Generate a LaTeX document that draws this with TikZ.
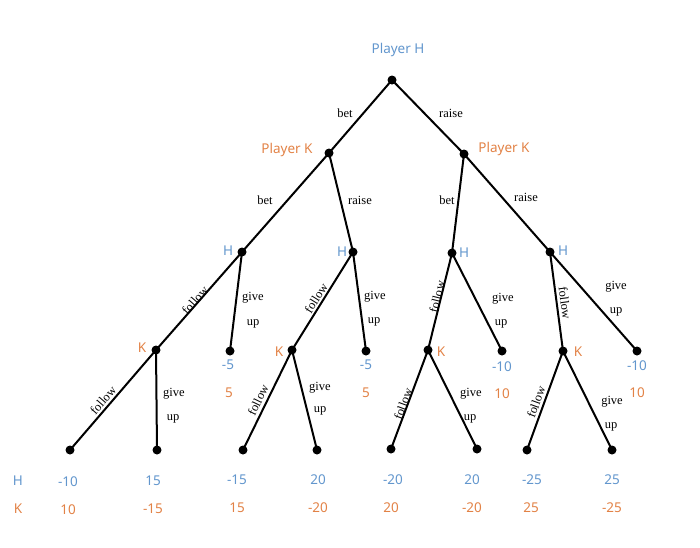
\documentclass[tikz,border=0pt]{standalone}
\usepackage{fontspec}
\setmainfont{Liberation Serif}
\newfontfamily\lblfont{Noto Sans}
\definecolor{hblue}{RGB}{98,150,205}
\definecolor{korange}{RGB}{226,130,70}
\begin{document}
\begin{tikzpicture}[x=1pt,y=-1pt,
  dot/.style={circle,fill=black,inner sep=0pt,minimum size=9pt},
  edge/.style={line width=2pt},
  act/.style={font=\fontsize{12.5}{14}\selectfont,inner sep=0pt},
  hl/.style={font=\lblfont\fontsize{13.5}{15}\selectfont,text=hblue,inner sep=0pt},
  kl/.style={font=\lblfont\fontsize{13.5}{15}\selectfont,text=korange,inner sep=0pt}]
\useasboundingbox (0,0) rectangle (700,547);
% decision nodes
\node[dot] (r) at (392,80) {};
\node[dot] (k1) at (329,153) {};
\node[dot] (k2) at (464,154) {};
\node[dot] (h1) at (242,252) {};
\node[dot] (h2) at (353,252) {};
\node[dot] (h3) at (452,253) {};
\node[dot] (h4) at (550,252) {};
\node[dot] (ka) at (156,350) {};
\node[dot] (t1) at (230,351) {};
\node[dot] (kb) at (292,350) {};
\node[dot] (t2) at (366,351) {};
\node[dot] (kc) at (428,350) {};
\node[dot] (t3) at (502,351) {};
\node[dot] (kd) at (563,351) {};
\node[dot] (t4) at (637,351) {};
\node[dot] (l1) at (70,450) {};
\node[dot] (l2) at (157,450) {};
\node[dot] (l3) at (243,450) {};
\node[dot] (l4) at (317,450) {};
\node[dot] (l5) at (391,449) {};
\node[dot] (l6) at (477,449) {};
\node[dot] (l7) at (527,450) {};
\node[dot] (l8) at (612,450) {};
% edges
\draw[edge] (r.center) -- (k1.center);
\draw[edge] (r.center) -- (k2.center);
\draw[edge] (k1.center) -- (h1.center);
\draw[edge] (k1.center) -- (h2.center);
\draw[edge] (k2.center) -- (h3.center);
\draw[edge] (k2.center) -- (h4.center);
\draw[edge] (h1.center) -- (ka.center);
\draw[edge] (h1.center) -- (t1.center);
\draw[edge] (h2.center) -- (kb.center);
\draw[edge] (h2.center) -- (t2.center);
\draw[edge] (h3.center) -- (kc.center);
\draw[edge] (h3.center) -- (t3.center);
\draw[edge] (h4.center) -- (kd.center);
\draw[edge] (h4.center) -- (t4.center);
\draw[edge] (ka.center) -- (l1.center);
\draw[edge] (ka.center) -- (l2.center);
\draw[edge] (kb.center) -- (l3.center);
\draw[edge] (kb.center) -- (l4.center);
\draw[edge] (kc.center) -- (l5.center);
\draw[edge] (kc.center) -- (l6.center);
\draw[edge] (kd.center) -- (l7.center);
\draw[edge] (kd.center) -- (l8.center);
% player labels
\node[hl] (pH) at (398,50) {Player H};
\node[kl] (pK1) at (287,150) {Player K};
\node[kl] (pK2) at (504,149) {Player K};
\node[hl] (lh1) at (228,251) {H};
\node[hl] (lh2) at (342,252) {H};
\node[hl] (lh3) at (464,253) {H};
\node[hl] (lh4) at (563,251) {H};
\node[kl] (lka) at (142,348) {K};
\node[kl] (lkb) at (279,352) {K};
\node[kl] (lkc) at (441,352) {K};
\node[kl] (lkd) at (578,352) {K};
% action labels
\node[act] (a1) at (345,113) {bet};
\node[act] (a2) at (451,113) {raise};
\node[act] (a3) at (265,200) {bet};
\node[act] (a4) at (360,200) {raise};
\node[act] (a5) at (447,200) {bet};
\node[act] (a6) at (526,197) {raise};
\node[act,rotate=48.7] (f1) at (195,300) {follow};
\node[act] (g1a) at (253,298) {give};
\node[act] (g1b) at (253,324) {up};
\node[act,rotate=58] (f2) at (316,298) {follow};
\node[act] (g2a) at (375,297) {give};
\node[act] (g2b) at (374,322) {up};
\node[act,rotate=76] (f3) at (437,297) {follow};
\node[act] (g3a) at (503,299) {give};
\node[act] (g3b) at (501,324) {up};
\node[act,rotate=-82.5] (f4) at (565,303) {follow};
\node[act] (g4a) at (616,287) {give};
\node[act] (g4b) at (616,312) {up};
\node[act,rotate=49] (f5) at (103,400) {follow};
\node[act] (g5a) at (174,394) {give};
\node[act] (g5b) at (173,419) {up};
\node[act,rotate=64] (f6) at (258,400) {follow};
\node[act] (g6a) at (320,388) {give};
\node[act] (g6b) at (320,411) {up};
\node[act,rotate=70] (f7) at (403,404) {follow};
\node[act] (g7a) at (471,394) {give};
\node[act] (g7b) at (470,419) {up};
\node[act,rotate=70] (f8) at (536,402) {follow};
\node[act] (g8a) at (612,402) {give};
\node[act] (g8b) at (611,427) {up};
% intermediate payoffs
\node[hl] (p1h) at (228,365) {-5};
\node[kl] (p1k) at (229,393) {5};
\node[hl] (p2h) at (366,365) {-5};
\node[kl] (p2k) at (366,393) {5};
\node[hl] (p3h) at (502,367) {-10};
\node[kl] (p3k) at (502,394) {10};
\node[hl] (p4h) at (637,366) {-10};
\node[kl] (p4k) at (637,393) {10};
% bottom payoffs
\node[hl] (rowH) at (18,481) {H};
\node[kl] (rowK) at (18,509) {K};
\node[hl] (q1h) at (68,482) {-10};
\node[hl] (q2h) at (153,481) {15};
\node[hl] (q3h) at (237,480) {-15};
\node[hl] (q4h) at (318,480) {20};
\node[hl] (q5h) at (393,480) {-20};
\node[hl] (q6h) at (472,480) {20};
\node[hl] (q7h) at (532,480) {-25};
\node[hl] (q8h) at (612,480) {25};
\node[kl] (q1k) at (68,510) {10};
\node[kl] (q2k) at (153,509) {-15};
\node[kl] (q3k) at (237,508) {15};
\node[kl] (q4k) at (318,508) {-20};
\node[kl] (q5k) at (391,508) {20};
\node[kl] (q6k) at (472,508) {-20};
\node[kl] (q7k) at (531,508) {25};
\node[kl] (q8k) at (612,508) {-25};
\end{tikzpicture}
\end{document}
